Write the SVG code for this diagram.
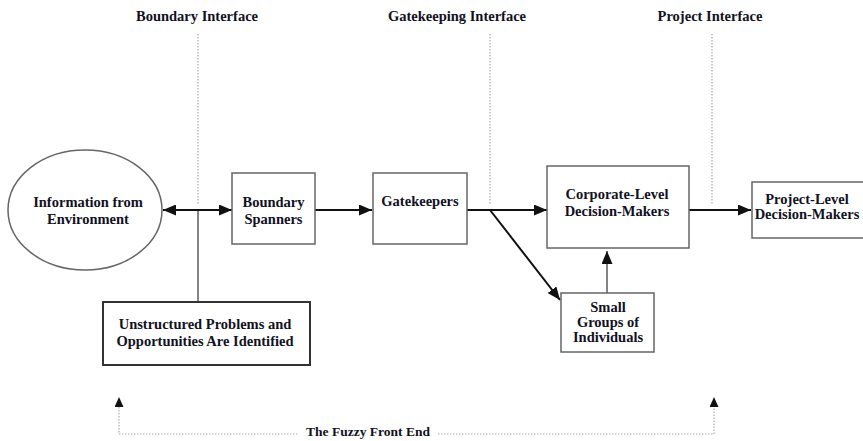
<svg xmlns="http://www.w3.org/2000/svg" width="863" height="441" viewBox="0 0 863 441">
<style>
  text { font-family: "Liberation Serif", "Times New Roman", serif; font-weight: bold; fill: #111122; text-anchor: middle; }
  .hdr { font-size: 14.5px; }
  .lbl { font-size: 14.5px; }
  .fz { font-size: 13.5px; }
  .box { fill: #fff; stroke: #666; stroke-width: 1.5; }
  .dark { fill: #fff; stroke: #333; stroke-width: 2; }
  .arrow { stroke: #111; stroke-width: 2; fill: none; }
  .grey { stroke: #777; stroke-width: 1.8; fill: none; }
  .dot { stroke: #aaa; stroke-width: 1.2; stroke-dasharray: 1.5 1.5; fill: none; }
</style>
<defs>
  <marker id="ah" viewBox="0 0 13 11" refX="13" refY="5.5" markerWidth="13" markerHeight="11" markerUnits="userSpaceOnUse" orient="auto-start-reverse">
    <path d="M0,0 L13,5.5 L0,11 Z" fill="#111"/>
  </marker>
  <marker id="ahs" viewBox="0 0 10 9" refX="10" refY="4.5" markerWidth="10" markerHeight="9" markerUnits="userSpaceOnUse" orient="auto">
    <path d="M0,0 L10,4.5 L0,9 Z" fill="#111"/>
  </marker>
</defs>

<g id="headers">
  <text class="hdr" x="197" y="21">Boundary Interface</text>
  <text class="hdr" x="457" y="21">Gatekeeping Interface</text>
  <text class="hdr" x="710" y="21">Project Interface</text>
</g>

<g id="connectors">
  <line class="dot" x1="198" y1="34" x2="198" y2="205"/>
  <line class="dot" x1="490" y1="34" x2="490" y2="205"/>
  <line class="dot" x1="712" y1="34" x2="712" y2="205"/>
  <line class="grey" x1="198" y1="210" x2="198" y2="302"/>
  <line class="arrow" x1="163" y1="210" x2="232" y2="210" marker-start="url(#ah)" marker-end="url(#ah)"/>
  <line class="arrow" x1="315" y1="210" x2="372" y2="210" marker-end="url(#ah)"/>
  <line class="arrow" x1="467" y1="210" x2="547" y2="210" marker-end="url(#ah)"/>
  <line class="arrow" x1="490" y1="210" x2="560" y2="300" marker-end="url(#ah)"/>
  <line class="arrow" x1="689" y1="210" x2="751" y2="210" marker-end="url(#ah)"/>
  <line class="grey" x1="607" y1="293" x2="607" y2="251" marker-end="url(#ah)"/>
  <path class="dot" d="M119,407 L119,434 L298,434"/>
  <path class="dot" d="M438,434 L714,434 L714,407"/>
  <line x1="119" y1="408" x2="119" y2="397" stroke="none" marker-end="url(#ahs)"/>
  <line x1="714" y1="408" x2="714" y2="397" stroke="none" marker-end="url(#ahs)"/>
</g>

<g id="information">
  <ellipse cx="85" cy="210" rx="77" ry="60" fill="#fff" stroke="#666" stroke-width="1.5"/>
  <text class="lbl" x="88" y="207">Information from</text>
  <text class="lbl" x="88" y="224">Environment</text>
</g>

<g id="boundary-spanners">
  <rect class="box" x="232" y="173" width="83" height="71"/>
  <text class="lbl" x="273.5" y="207">Boundary</text>
  <text class="lbl" x="273.5" y="224">Spanners</text>
</g>

<g id="gatekeepers">
  <rect class="box" x="373" y="173" width="94" height="71"/>
  <text class="lbl" x="420" y="206">Gatekeepers</text>
</g>

<g id="corporate">
  <rect class="box" x="547" y="166" width="142" height="82"/>
  <text class="lbl" x="617" y="199">Corporate-Level</text>
  <text class="lbl" x="617" y="216">Decision-Makers</text>
</g>

<g id="small-groups">
  <rect class="box" x="561" y="293" width="93" height="59"/>
  <text class="lbl" x="608" y="312">Small</text>
  <text class="lbl" x="608" y="327">Groups of</text>
  <text class="lbl" x="608" y="342">Individuals</text>
</g>

<g id="project">
  <rect class="box" x="752" y="182" width="130" height="56"/>
  <text class="lbl" x="807" y="204">Project-Level</text>
  <text class="lbl" x="807" y="219">Decision-Makers</text>
</g>

<g id="unstructured">
  <rect class="dark" x="103" y="302" width="207" height="63"/>
  <text class="lbl" x="205" y="329">Unstructured Problems and</text>
  <text class="lbl" x="205" y="346">Opportunities Are Identified</text>
</g>

<g id="fuzzy">
  <text class="fz" x="368" y="436">The Fuzzy Front End</text>
</g>
</svg>
